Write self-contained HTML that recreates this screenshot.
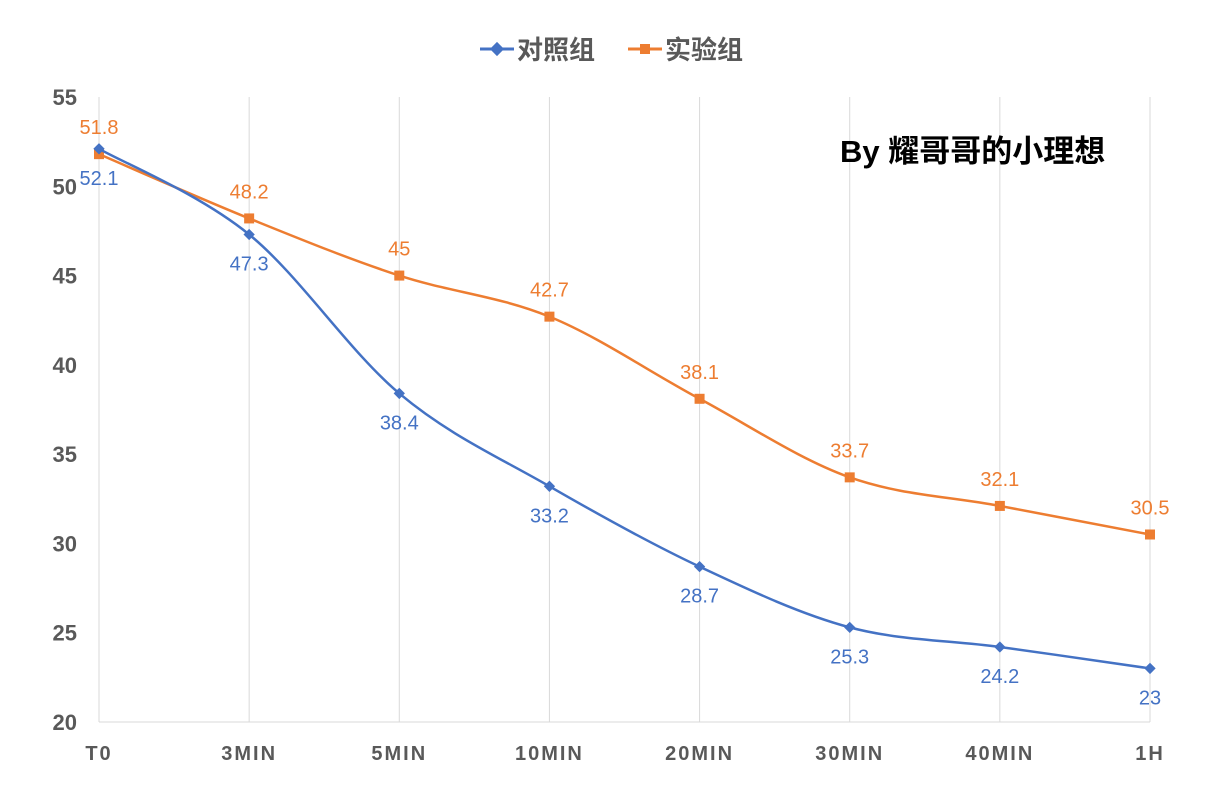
<!DOCTYPE html>
<html><head><meta charset="utf-8"><style>
html,body{margin:0;padding:0;background:#fff;}
svg{display:block;font-family:"Liberation Sans","Noto Sans CJK SC",sans-serif;}
</style></head><body>
<svg id="chart" width="1215" height="801" xmlns="http://www.w3.org/2000/svg">
<g id="grid"></g>
<g id="yaxis"></g>
<g id="xaxis"></g>
<g id="series"></g>
<g>
  <g>
    <line x1="480" y1="49" x2="514" y2="49" stroke="#4472C4" stroke-width="3"/>
    <rect x="492" y="44" width="10" height="10" fill="#4472C4" transform="rotate(45 497 49)"/>
    <text x="517" y="59" font-size="26" font-weight="bold" fill="#595959">对照组</text>
  </g>
  <g>
    <line x1="628" y1="49" x2="662" y2="49" stroke="#ED7D31" stroke-width="3"/>
    <rect x="640" y="44" width="10" height="10" fill="#ED7D31"/>
    <text x="665" y="59" font-size="26" font-weight="bold" fill="#595959">实验组</text>
  </g>
</g>
<text x="840" y="162" font-size="31" font-weight="bold" fill="#000">By 耀哥哥的小理想</text>
</svg>
<script>
const categories=["T0","3MIN","5MIN","10MIN","20MIN","30MIN","40MIN","1H"];
const controlValues=[52.1,47.3,38.4,33.2,28.7,25.3,24.2,23];
const experimentValues=[51.8,48.2,45,42.7,38.1,33.7,32.1,30.5];
const yTicks=[20,25,30,35,40,45,50,55];
const NS="http://www.w3.org/2000/svg";
const x0=99,x1=1150,yTop=97,yBot=722,yMin=20,yMax=55;
function xs(i){return x0+(x1-x0)*i/(categories.length-1);}
function ys(v){return yBot-(v-yMin)/(yMax-yMin)*(yBot-yTop);}
function mk(tag,attrs,parent){const e=document.createElementNS(NS,tag);for(const k in attrs)e.setAttribute(k,attrs[k]);parent.appendChild(e);return e;}
const grid=document.getElementById('grid'),ya=document.getElementById('yaxis'),xa=document.getElementById('xaxis'),sg=document.getElementById('series');
categories.forEach((c,i)=>{
  const l=mk('line',{x1:xs(i),x2:xs(i),y1:yTop,y2:yBot,stroke:'#d9d9d9','stroke-width':1},grid);
  
  
  const t=mk('text',{x:xs(i),y:760,'text-anchor':'middle','font-size':20,'font-weight':'bold',fill:'#595959','letter-spacing':2},xa);
  t.textContent=c;
  
  
});
const ax=mk('line',{x1:x0,x2:x1,y1:yBot,y2:yBot,stroke:'#d9d9d9','stroke-width':1},xa);


yTicks.forEach(v=>{
  const t=mk('text',{x:77,y:ys(v)+8,'text-anchor':'end','font-size':22,'font-weight':'bold',fill:'#595959'},ya);
  t.textContent=v;
  
  
});
function smooth(pts){
  let d=`M${pts[0][0]},${pts[0][1]}`;
  for(let i=0;i<pts.length-1;i++){
    const p0=pts[i-1]||pts[i],p1=pts[i],p2=pts[i+1],p3=pts[i+2]||p2,k=1/6;
    d+=` C${p1[0]+(p2[0]-p0[0])*k},${p1[1]+(p2[1]-p0[1])*k} ${p2[0]-(p3[0]-p1[0])*k},${p2[1]-(p3[1]-p1[1])*k} ${p2[0]},${p2[1]}`;
  }
  return d;
}
function drawSeries(vals,color,marker,labelDy,name){
  const g=mk('g',{},sg);
  
  
  const pts=vals.map((v,i)=>[xs(i),ys(v)]);
  const p=mk('path',{d:smooth(pts),fill:'none',stroke:color,'stroke-width':2.5},g);
  
  
  pts.forEach((pt,i)=>{
    let m;
    if(marker==='diamond') m=mk('rect',{x:pt[0]-4,y:pt[1]-4,width:8,height:8,fill:color,transform:`rotate(45 ${pt[0]} ${pt[1]})`},g);
    else m=mk('rect',{x:pt[0]-5,y:pt[1]-5,width:10,height:10,fill:color},g);
    
    
    const t=mk('text',{x:pt[0],y:pt[1]+labelDy,'text-anchor':'middle','font-size':20,fill:color},g);
    t.textContent=vals[i];
    
    
  });
}
drawSeries(experimentValues,'#ED7D31','square',-20,'experiment-series');
drawSeries(controlValues,'#4472C4','diamond',36,'control-series');
</script>
</body></html>
